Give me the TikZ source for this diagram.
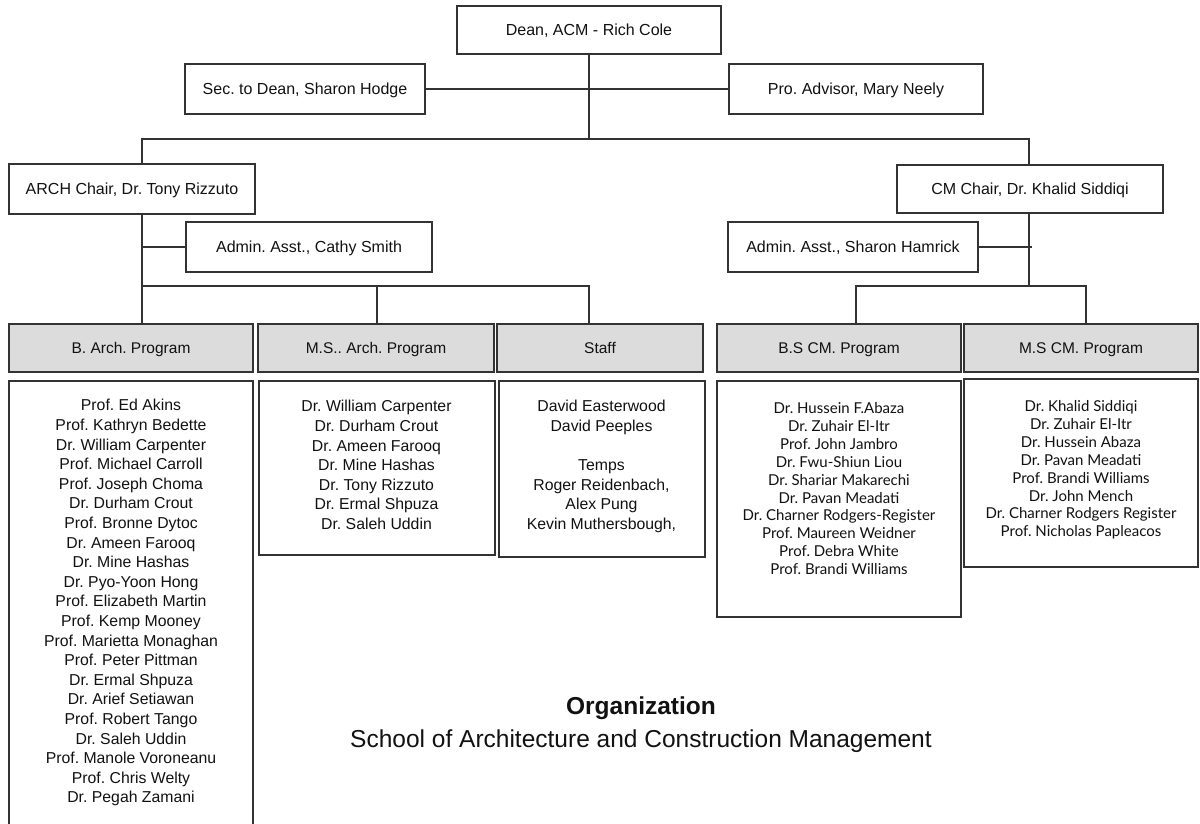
\documentclass[tikz,border=0pt]{standalone}
\usepackage{fontspec}
\setmainfont{Liberation Sans}
\newfontfamily\gillfont{Lato}
\definecolor{linec}{HTML}{333333}
\definecolor{hdrfill}{HTML}{DCDCDC}
\definecolor{txt}{HTML}{111111}
\begin{document}
\frenchspacing
\begin{tikzpicture}[x=1pt,y=-1pt,
  box/.style={draw=linec, line width=1.6pt, rectangle, inner sep=0pt, text=txt, text height=11.4pt, text depth=0pt, font=\fontsize{16}{19}\selectfont},
  hdr/.style={box, fill=hdrfill, text height=11.1pt, font=\fontsize{15.5}{19}\selectfont},
  lst/.style={draw=linec, line width=1.6pt, rectangle, inner sep=0pt},
  names/.style={align=center, anchor=north, inner sep=0pt, text=txt, font=\fontsize{15.8}{19.6}\selectfont},
  cmnames/.style={align=center, anchor=north, inner sep=0pt, text=txt, font=\gillfont\fontsize{15}{17.85}\selectfont},
  conn/.style={draw=linec, line width=1.6pt, line cap=rect}]
\useasboundingbox (0,0) rectangle (1200,824);
% top boxes
\node[box, minimum width=264pt, minimum height=48pt] (dean) at (589,30) {Dean, ACM - Rich Cole};
\node[box, minimum width=240pt, minimum height=50pt] (sec) at (305,89) {Sec. to Dean, Sharon Hodge};
\node[box, minimum width=254pt, minimum height=50pt] (pro) at (856,89) {Pro. Advisor, Mary Neely};
\node[box, minimum width=246pt, minimum height=50pt] (arch) at (132,189) {ARCH Chair, Dr. Tony Rizzuto};
\node[box, minimum width=246pt, minimum height=50pt] (cathy) at (309,247) {Admin. Asst., Cathy Smith};
\node[box, minimum width=266pt, minimum height=48pt] (cm) at (1030,189) {CM Chair, Dr. Khalid Siddiqi};
\node[box, minimum width=250pt, minimum height=50pt] (hamrick) at (853,247) {Admin. Asst., Sharon Hamrick};
% headers
\node[hdr, minimum width=244pt, minimum height=48pt] (h1) at (131,348) {B. Arch. Program};
\node[hdr, minimum width=236pt, minimum height=48pt] (h2) at (376,348) {M.S.. Arch. Program};
\node[hdr, minimum width=206pt, minimum height=48pt] (h3) at (600,348) {Staff};
\node[hdr, minimum width=244pt, minimum height=48pt] (h4) at (839,348) {B.S CM. Program};
\node[hdr, minimum width=234pt, minimum height=48pt] (h5) at (1081,348) {M.S CM. Program};
% list boxes
\node[lst, minimum width=244pt, minimum height=450pt] (l1) at (131,606) {};
\node[lst, minimum width=236pt, minimum height=174pt] (l2) at (377,468) {};
\node[lst, minimum width=206pt, minimum height=176pt] (l3) at (602,469) {};
\node[lst, minimum width=244pt, minimum height=236pt] (l4) at (839,499) {};
\node[lst, minimum width=234pt, minimum height=188pt] (l5) at (1081,473) {};
% list texts
\node[names] (n1) at (131,399.2) {Prof. Ed Akins\\Prof. Kathryn Bedette\\Dr. William Carpenter\\Prof. Michael Carroll\\Prof. Joseph Choma\\Dr. Durham Crout\\Prof. Bronne Dytoc\\Dr. Ameen Farooq\\Dr. Mine Hashas\\Dr. Pyo-Yoon Hong\\Prof. Elizabeth Martin\\Prof. Kemp Mooney\\Prof. Marietta Monaghan\\Prof. Peter Pittman\\Dr. Ermal Shpuza\\Dr. Arief Setiawan\\Prof. Robert Tango\\Dr. Saleh Uddin\\Prof. Manole Voroneanu\\Prof. Chris Welty\\Dr. Pegah Zamani};
\node[names] (n2) at (376.5,400.2) {Dr. William Carpenter\\Dr. Durham Crout\\Dr. Ameen Farooq\\Dr. Mine Hashas\\Dr. Tony Rizzuto\\Dr. Ermal Shpuza\\Dr. Saleh Uddin};
\node[names] (n3) at (601.5,400.2) {David Easterwood\\David Peeples\\[19.5pt]Temps\\Roger Reidenbach,\\Alex Pung\\Kevin Muthersbough,};
\node[cmnames] (n4) at (839,402.5) {Dr. Hussein F.Abaza\\Dr. Zuhair El-Itr\\Prof. John Jambro\\Dr. Fwu-Shiun Liou\\Dr. Shariar Makarechi\\Dr. Pavan Meadati\\Dr. Charner Rodgers-Register\\Prof. Maureen Weidner\\Prof. Debra White\\Prof. Brandi Williams};
\node[cmnames] (n5) at (1081,400.5) {Dr. Khalid Siddiqi\\Dr. Zuhair El-Itr\\Dr. Hussein Abaza\\Dr. Pavan Meadati\\Prof. Brandi Williams\\Dr. John Mench\\Dr. Charner Rodgers Register\\Prof. Nicholas Papleacos};
% title
\node[text=txt, inner sep=0pt, font=\bfseries\fontsize{24.5}{29}\selectfont] (ttl) at (641,708) {Organization};
\node[text=txt, inner sep=0pt, font=\fontsize{24.5}{29}\selectfont] (sub) at (641,741) {School of Architecture and Construction Management};
% connectors
\coordinate (busL) at (142,139);
\coordinate (busR) at (1029,139);
\draw[conn] (dean.south) -- (dean.south |- busL);
\draw[conn] (sec.east) -- (pro.west);
\draw[conn] (busL) -- (busR);
\draw[conn] (busL) -- (busL |- arch.north);
\draw[conn] (busR) -- (busR |- cm.north);
\coordinate (a1) at (142,286);
\coordinate (a2) at (589,286);
\coordinate (a3) at (377,286);
\draw[conn] (arch.south -| a1) -- (a1);
\draw[conn] (cathy.west) -- (cathy.west -| a1);
\draw[conn] (a1) -- (a2);
\draw[conn] (a1) -- (a1 |- h1.north);
\draw[conn] (a3) -- (a3 |- h2.north);
\draw[conn] (a2) -- (a2 |- h3.north);
\coordinate (c1) at (1029,286);
\coordinate (c2) at (856,286);
\coordinate (c3) at (1086,286);
\coordinate (hk) at (1031,247);
\draw[conn] (cm.south -| c1) -- (c1);
\draw[conn] (hamrick.east) -- (hk);
\draw[conn] (c2) -- (c3);
\draw[conn] (c2) -- (c2 |- h4.north);
\draw[conn] (c3) -- (c3 |- h5.north);
\end{tikzpicture}
\end{document}
